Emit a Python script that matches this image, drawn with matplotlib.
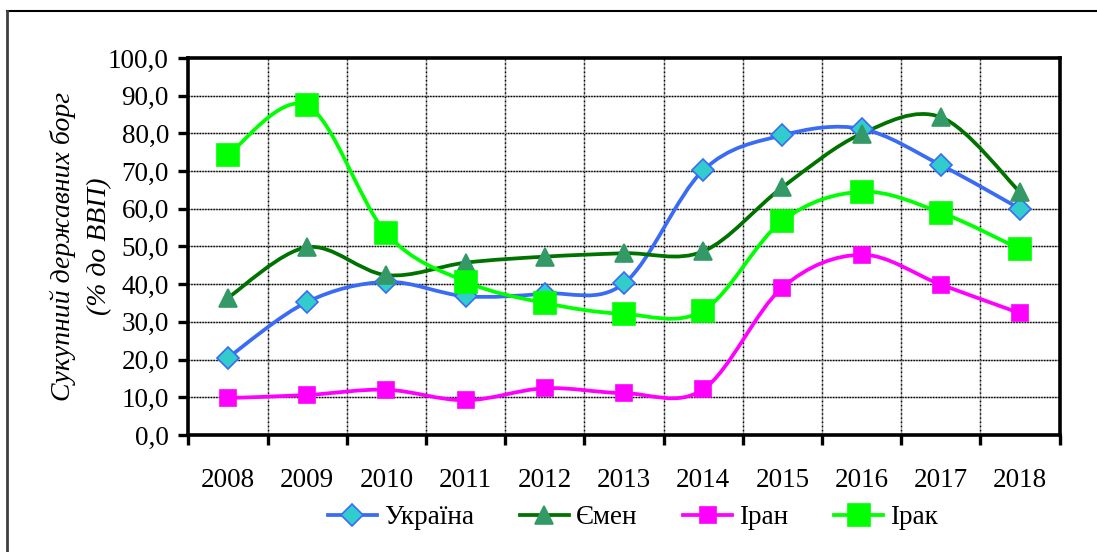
import numpy as np
import matplotlib
matplotlib.use("Agg")
import matplotlib.pyplot as plt
from matplotlib.path import Path
from matplotlib.patches import PathPatch
from matplotlib.lines import Line2D
from matplotlib.ticker import FuncFormatter, MultipleLocator

plt.rcParams['font.family'] = ['Liberation Serif', 'DejaVu Serif']

years = ["2008", "2009", "2010", "2011", "2012", "2013",
         "2014", "2015", "2016", "2017", "2018"]
ukraine = [20.5, 35.3, 40.6, 36.8, 37.5, 40.2, 70.2, 79.5, 81.2, 71.6, 60.0]
yemen = [36.4, 49.8, 42.4, 45.7, 47.3, 48.2, 48.7, 65.7, 79.9, 84.3, 64.4]
iran = [9.8, 10.6, 12.0, 9.2, 12.4, 11.1, 12.1, 39.1, 47.8, 39.9, 32.3]
iraq = [74.3, 87.4, 53.5, 40.7, 35.0, 32.1, 33.0, 56.8, 64.5, 59.0, 49.3]

# name, values, line colour, marker, face, edge, marker size
series = [
    ("Україна", ukraine, "#3A6BF6", "D", "#33CCCC", "#3A6BF6", 11),
    ("Ємен", yemen, "#007200", "^", "#339966", "#339966", 13),
    ("Іран", iran, "#FF00FF", "s", "#FF00FF", "#FF00FF", 12),
    ("Ірак", iraq, "#00FF00", "s", "#00FF00", "#00FF00", 16),
]

FS = 19.5


def smooth_path(x, y):
    # Excel-like smoothed line: cubic Bezier through every point
    pts = np.column_stack([x, y]).astype(float)
    ext = np.vstack([pts[0], pts, pts[-1]])
    verts = [pts[0]]
    codes = [Path.MOVETO]
    for i in range(len(pts) - 1):
        p0, p1, p2, p3 = ext[i], ext[i + 1], ext[i + 2], ext[i + 3]
        c1 = p1 + (p2 - p0) / 6.0
        c2 = p2 - (p3 - p1) / 6.0
        verts += [c1, c2, p2]
        codes += [Path.CURVE4] * 3
    return Path(verts, codes)


fig = plt.figure(figsize=(10.97, 5.52), dpi=100)
ax = fig.add_axes([0.1717, 0.2120, 0.7942, 0.6830])

x = np.arange(len(years))
for name, vals, lc, mk, mf, me, ms in series:
    ax.add_patch(PathPatch(smooth_path(x, vals), fill=False, edgecolor=lc,
                           lw=2.7, zorder=3, capstyle='round'))
    ax.plot(x, vals, linestyle='none', marker=mk, markersize=ms,
            markerfacecolor=mf, markeredgecolor=me, markeredgewidth=1.2,
            zorder=4)

ax.set_xlim(-0.5, len(years) - 0.5)
ax.set_ylim(0, 100)

ax.yaxis.set_major_locator(MultipleLocator(10))
ax.yaxis.set_major_formatter(FuncFormatter(lambda v, p: f"{v:.1f}".replace(".", ",")))

bounds = np.arange(-0.5, len(years), 1.0)
ax.set_xticks(bounds)
ax.set_xticklabels([])
ax.set_xticks(x, minor=True)
ax.set_xticklabels(years, minor=True)
ax.tick_params(axis='x', which='minor', length=0, pad=24, labelsize=FS)
ax.tick_params(axis='x', which='major', length=7, width=2.4, direction='out')
ax.tick_params(axis='y', length=7, width=2.4, direction='out', labelsize=FS, pad=7)

# gridlines: grey line with black dots over it
gy = np.arange(10, 100, 10)
ax.hlines(gy, -0.5, len(years) - 0.5, colors='#A0A0A0', lw=1.0, zorder=1)
ax.hlines(gy, -0.5, len(years) - 0.5, colors='black', lw=1.0,
          linestyles=(0, (1, 1)), zorder=1)
ax.vlines(bounds[1:-1], 0, 100, colors='#A0A0A0', lw=1.0, zorder=1)
ax.vlines(bounds[1:-1], 0, 100, colors='black', lw=1.0,
          linestyles=(0, (1, 2)), zorder=1)

for s in ax.spines.values():
    s.set_linewidth(2.6)
    s.set_color('black')

fig.text(0.0575, 0.553, "Сукупний державних борг", rotation=90, fontsize=20,
         style='italic', ha='center', va='center')
fig.text(0.0912, 0.553, "(% до ВВП)", rotation=90, fontsize=20,
         style='italic', ha='center', va='center')

handles = [Line2D([], [], color=lc, lw=2.7, marker=mk, markersize=ms,
                  markerfacecolor=mf, markeredgecolor=me, markeredgewidth=1.2)
           for name, vals, lc, mk, mf, me, ms in series]
fig.legend(handles, [s[0] for s in series], loc='center',
           bbox_to_anchor=(0.577, 0.062), ncol=4, frameon=False, fontsize=FS,
           handlelength=1.8, handletextpad=0.26, columnspacing=1.7)

# outer chart border (top and left visible)
fig.add_artist(Line2D([0.0064, 1.0], [0.980, 0.980], color='black', lw=1.5,
                      transform=fig.transFigure))
fig.add_artist(Line2D([0.0064, 0.0064], [0.0, 0.980], color='#404040', lw=2.0,
                      transform=fig.transFigure))

fig.savefig("out.png", dpi=100)
